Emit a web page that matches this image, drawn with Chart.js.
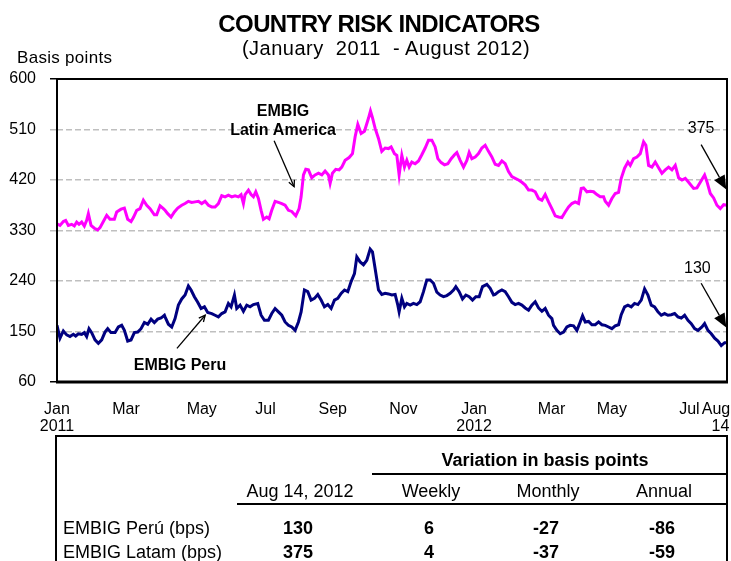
<!DOCTYPE html>
<html><head><meta charset="utf-8">
<script src="https://cdn.jsdelivr.net/npm/chart.js@4/dist/chart.umd.min.js"></script>
<style>
body{margin:0;background:#fff;}
#wrap{position:relative;width:731px;height:561px;overflow:hidden;font-family:"Liberation Sans",Arial,sans-serif;color:#000;}
canvas{position:absolute;left:0;top:0;}
.t{position:absolute;white-space:nowrap;transform:translate(-50%,-50%);line-height:1;}
.l{position:absolute;white-space:nowrap;transform:translate(0,-50%);line-height:1;}
.ln{position:absolute;background:#000;}
</style></head><body>
<div id="wrap">
<canvas id="c" width="731" height="561"></canvas>
</div>
<script>
// ---- Data (months since 1 Jan 2011) ----
const latamX = [0,0.087,0.184,0.252,0.329,0.426,0.503,0.571,0.639,0.716,0.793,0.861,0.91,0.987,1.084,1.18,1.248,1.345,1.442,1.538,1.664,1.732,1.858,1.955,2.051,2.148,2.216,2.313,2.409,2.506,2.603,2.7,2.825,2.893,2.99,3.086,
3.135,3.212,3.309,3.406,3.503,3.619,3.716,3.812,3.909,4.006,4.103,4.199,4.296,4.393,4.49,4.586,4.683,4.78,4.877,4.973,5.07,5.167,5.264,5.341,5.409,5.457,5.554,5.631,5.699,5.767,5.844,5.922,5.989,6.086,6.154,6.231,
6.328,6.425,6.522,6.618,6.715,6.812,6.928,7.025,7.083,7.151,7.218,7.296,7.392,7.489,7.586,7.683,7.779,7.876,7.925,7.992,8.089,8.186,8.263,8.36,8.476,8.573,8.65,8.728,8.824,8.921,9.037,9.095,9.153,9.231,9.328,9.424,
9.521,9.618,9.695,9.792,9.86,9.927,10.005,10.082,10.15,10.218,10.295,10.392,10.489,10.585,10.682,10.779,10.876,10.972,11.05,11.147,11.243,11.34,11.437,11.534,11.601,11.698,11.795,11.892,11.959,12.037,12.134,12.23,12.327,12.424,12.52,12.617,
12.714,12.811,12.908,13.004,13.101,13.198,13.295,13.391,13.488,13.585,13.682,13.778,13.875,13.972,14.069,14.165,14.262,14.359,14.456,14.552,14.649,14.746,14.843,14.939,15.036,15.133,15.21,15.278,15.375,15.472,15.568,15.665,15.762,15.859,
15.907,16.004,16.1,16.197,16.294,16.371,16.468,16.565,16.633,16.73,16.826,16.923,17.02,17.087,17.165,17.262,17.358,17.455,17.552,17.649,17.745,17.842,17.939,18.036,18.133,18.229,18.326,18.471,18.568,18.665,18.79,18.858,18.955,19.052,19.148,19.245,19.342,19.44];
const latamY = [342,339,346,348,339,341,338,345,341,345,338,348,360,339,334,331,335,346,357,350,350,363,368,370,350,346,353,366,369,384,375,369,358,358,374,369,
366,360,354,363,370,375,378,382,380,381,382,378,382,375,372,372,378,392,390,393,390,392,390,394,378,394,402,394,390,399,387,366,350,354,351,366,
382,380,378,375,366,364,356,369,390,429,439,438,424,429,432,429,436,429,414,432,439,438,443,455,460,467,497,519,503,507,530,543,531,512,494,471,
477,476,479,467,464,429,464,443,455,443,452,449,454,465,477,491,491,479,458,451,447,449,458,465,469,455,443,455,469,458,461,467,477,482,471,461,
448,446,454,449,435,426,423,420,416,411,402,402,399,387,384,394,381,369,356,354,353,363,372,378,381,378,405,406,399,400,399,394,390,390,
382,375,387,396,398,423,441,452,446,458,461,467,488,482,446,443,452,442,432,438,443,438,446,424,420,423,416,405,406,416,429,417,396,388,375,369,376,375];

const peruX = [0,0.087,0.184,0.281,0.377,0.474,0.542,0.619,0.716,0.793,0.861,0.929,1.006,1.103,1.2,1.297,1.393,1.471,1.567,1.684,1.78,1.877,1.955,2.051,2.148,2.245,2.342,2.438,2.535,2.632,2.729,2.825,2.922,3.019,3.116,
3.135,3.232,3.329,3.425,3.522,3.619,3.716,3.812,3.89,3.986,4.083,4.18,4.277,4.373,4.49,4.586,4.683,4.78,4.877,4.973,5.051,5.148,5.215,5.312,5.409,5.506,5.602,5.699,5.825,5.922,6.018,6.134,6.231,
6.328,6.425,6.522,6.618,6.715,6.812,6.909,7.005,7.083,7.179,7.276,7.373,7.47,7.567,7.663,7.76,7.857,7.954,8.05,8.147,8.244,8.341,8.437,8.534,8.631,8.699,8.795,8.892,8.989,9.086,9.153,9.231,9.328,9.424,
9.521,9.618,9.715,9.811,9.889,9.927,10.005,10.082,10.15,10.247,10.343,10.44,10.537,10.634,10.73,10.827,10.924,11.021,11.117,11.214,11.311,11.408,11.505,11.572,11.669,11.766,11.863,11.959,12.056,12.153,12.25,12.346,12.472,12.569,12.666,
12.714,12.811,12.908,13.004,13.101,13.198,13.295,13.391,13.488,13.585,13.682,13.778,13.875,13.972,14.069,14.165,14.262,14.359,14.407,14.504,14.601,14.698,14.794,14.891,14.988,15.085,15.181,15.249,15.327,15.423,15.52,15.617,15.714,15.81,
15.907,16.004,16.1,16.197,16.294,16.371,16.468,16.565,16.662,16.758,16.855,16.952,17.049,17.146,17.242,17.339,17.436,17.533,17.629,17.726,17.823,17.92,18.016,18.113,18.21,18.307,18.403,18.5,18.597,18.713,18.79,18.887,18.984,19.081,19.178,19.274,19.371,19.44];
const peruY = [161,138,151,144,141,145,142,146,145,148,141,155,148,135,129,135,149,155,148,148,158,161,152,133,135,148,149,155,166,163,172,166,172,174,179,
176,163,158,173,197,208,215,231,224,212,202,191,194,184,182,179,176,182,185,200,194,215,191,197,186,197,194,198,200,179,170,170,182,
191,185,179,167,161,158,152,167,185,224,221,206,209,216,206,194,198,191,206,209,218,224,221,239,253,283,274,269,277,297,292,262,224,216,
218,217,215,216,197,185,209,194,200,197,200,198,203,221,242,242,236,220,215,212,214,218,224,230,221,208,215,212,206,212,212,230,234,227,215,
216,221,224,221,212,202,198,200,197,192,188,197,203,192,186,191,179,173,161,152,146,149,158,161,160,152,167,178,167,168,162,162,167,162,
161,158,155,160,162,180,194,197,194,200,198,206,226,215,197,194,185,179,182,179,180,182,176,174,179,170,164,155,152,158,164,152,146,138,133,125,130,130];

// x-axis tick labels and where they sit (months since Jan 2011)
const tickPos = [0, 2, 4.2, 6.05, 8, 10.05, 12.1, 14.35, 16.1, 18.35, 19.12];
const tickLabels = [["Jan","2011"],"Mar","May","Jul","Sep","Nov",["Jan","2012"],"Mar","May","Jul",["Aug","  14"]];

// table
const tableHead = ["Aug 14, 2012","Weekly","Monthly","Annual"];
const tableRowNames = ["EMBIG Perú (bps)","EMBIG Latam (bps)"];
const tableValues = [[130, 6, -27, -86],[375, 4, -37, -59]];

const lastLatam = 375, lastPeru = 130;

// ---- page texts ----
const wrap = document.getElementById('wrap');
function addText(cls, txt, x, y, style){
  const d = document.createElement('div');
  d.className = cls; d.textContent = txt;
  d.style.left = x+'px'; d.style.top = y+'px';
  if (style) d.style.cssText += style;
  wrap.appendChild(d); return d;
}
function addLine(x, y, w, h){
  const d = document.createElement('div'); d.className='ln';
  d.style.left=x+'px'; d.style.top=y+'px'; d.style.width=w+'px'; d.style.height=h+'px';
  wrap.appendChild(d);
}
addText('t','COUNTRY RISK INDICATORS',379,24,'font-weight:bold;font-size:24px;letter-spacing:-0.6px;');
addText('t','(January  2011  - August 2012)',386,48,'font-size:20px;letter-spacing:0.5px;white-space:pre;');
addText('l','Basis points',17,57,'font-size:17px;letter-spacing:0.3px;');

// table frame
addLine(55,435,673,2); addLine(55,435,2,130); addLine(726,435,2,130);
addLine(372,473,356,2); addLine(237,503,491,2);
addText('t','Variation in basis points',545,460,'font-weight:bold;font-size:18px;');
const colX = [300,431,548,664];
tableHead.forEach((h,i)=>addText('t',h,colX[i],491,'font-size:18px;'));
const rowY = [528,552];
tableRowNames.forEach((n,r)=>{
  addText('l',n,63,rowY[r],'font-size:18px;');
  tableValues[r].forEach((v,i)=>addText('t',String(v),colX[i]-2,rowY[r],'font-weight:bold;font-size:18px;'));
});

// ---- chart ----
const FONT = '"Liberation Sans", Arial, sans-serif';
function arrow(ctx, x1,y1,x2,y2, filled){
  const ang = Math.atan2(y2-y1, x2-x1);
  ctx.beginPath(); ctx.moveTo(x1,y1);
  if (filled) {
    const L=14, W=6;
    const bx = x2 - L*Math.cos(ang), by = y2 - L*Math.sin(ang);
    ctx.lineTo(bx,by); ctx.stroke();
    ctx.beginPath();
    ctx.moveTo(x2,y2);
    ctx.lineTo(bx + W*Math.sin(ang), by - W*Math.cos(ang));
    ctx.lineTo(bx - W*Math.sin(ang), by + W*Math.cos(ang));
    ctx.closePath(); ctx.fill();
  } else {
    ctx.lineTo(x2,y2); ctx.stroke();
    const L=7, A=0.45;
    ctx.beginPath();
    ctx.moveTo(x2 - L*Math.cos(ang-A), y2 - L*Math.sin(ang-A));
    ctx.lineTo(x2,y2);
    ctx.lineTo(x2 - L*Math.cos(ang+A), y2 - L*Math.sin(ang+A));
    ctx.stroke();
  }
}
const annot = {
  id:'annot',
  afterDatasetsDraw(chart){
    const {ctx, chartArea:a, scales:{x,y}} = chart;
    const P = (m,v)=>[x.getPixelForValue(m), y.getPixelForValue(v)];
    ctx.save();
    ctx.strokeStyle='#000'; ctx.fillStyle='#000';
    ctx.lineWidth=2;
    ctx.strokeRect(a.left, a.top, a.right-a.left, a.bottom-a.top);
    ctx.lineWidth=3;
    ctx.beginPath(); ctx.moveTo(a.left-1, a.bottom); ctx.lineTo(a.right+1, a.bottom); ctx.stroke();
    ctx.textAlign='center'; ctx.textBaseline='middle';
    ctx.font='bold 16px '+FONT;
    let p = P(6.56, 542); ctx.fillText('EMBIG', p[0], p[1]);
    p = P(6.56, 508); ctx.fillText('Latin America', p[0], p[1]);
    p = P(3.57, 89); ctx.fillText('EMBIG Peru', p[0], p[1]);
    ctx.font='16px '+FONT;
    p = P(18.69, 512); ctx.fillText(String(lastLatam), p[0], p[1]);
    p = P(18.58, 262); ctx.fillText(String(lastPeru), p[0], p[1]);
    ctx.lineWidth=1.3;
    let s=P(6.30,490), e=P(6.88,408); arrow(ctx,s[0],s[1],e[0],e[1],false);
    s=P(3.48,120); e=P(4.30,179); arrow(ctx,s[0],s[1],e[0],e[1],false);
    s=P(18.69,483); e=P(19.42,403); arrow(ctx,s[0],s[1],e[0],e[1],true);
    s=P(18.69,236); e=P(19.42,157); arrow(ctx,s[0],s[1],e[0],e[1],true);
    ctx.restore();
  }
};

new Chart(document.getElementById('c'), {
  type:'line',
  data:{datasets:[
    {label:'EMBIG Latin America', data: latamX.map((v,i)=>({x:v,y:latamY[i]})), borderColor:'#FF00FF', borderWidth:3, pointRadius:0, tension:0},
    {label:'EMBIG Peru', data: peruX.map((v,i)=>({x:v,y:peruY[i]})), borderColor:'#000080', borderWidth:3, pointRadius:0, tension:0}
  ]},
  options:{
    responsive:false, animation:false,
    layout:{padding:{top:79,right:4,left:0,bottom:0}},
    plugins:{legend:{display:false}, tooltip:{enabled:false}},
    scales:{
      x:{type:'linear', min:0, max:19.44,
        afterFit(s){ s.height = 561-382; s.paddingLeft = 0; s.paddingRight = 0; },
        afterBuildTicks(s){ s.ticks = tickPos.map(v=>({value:v})); },
        grid:{display:false, drawTicks:false},
        border:{display:false},
        ticks:{autoSkip:false, maxRotation:0, padding:19, color:'#000',
          font:{family:FONT, size:16, lineHeight:1.05},
          callback:(v,i)=>tickLabels[i]}
      },
      y:{min:60, max:600,
        afterFit(s){ s.width = 57; },
        ticks:{stepSize:90, color:'#000', padding:14, font:{family:FONT, size:16}},
        grid:{color:'#BFBFBF', lineWidth:1.5, tickLength:7,
          tickColor:(c)=> (c.tick && (c.tick.value===60||c.tick.value===600)) ? '#000' : '#BFBFBF',
          tickWidth:1.5, borderDash:[6,3]},
        border:{display:false, dash:[6,3]}
      }
    }
  },
  plugins:[annot]
});
</script>
</body></html>
